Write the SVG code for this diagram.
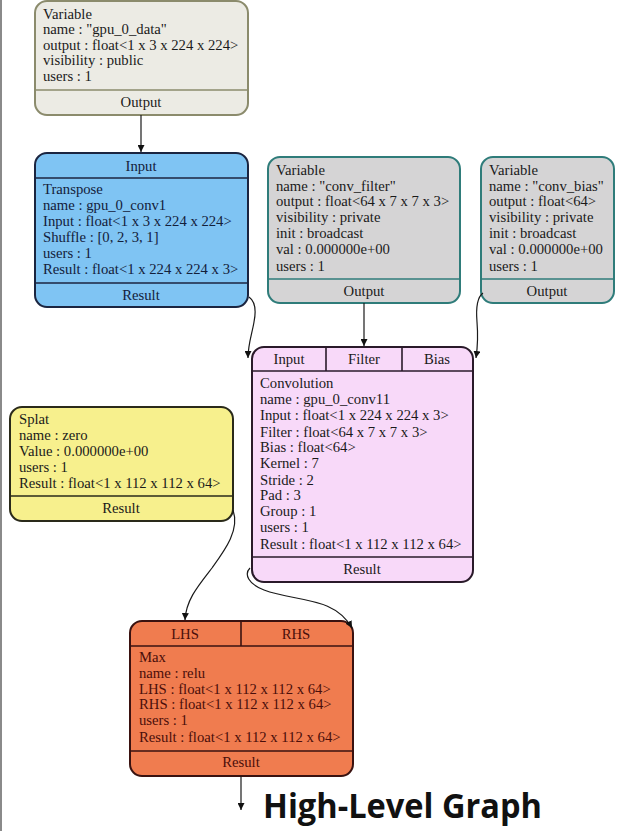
<svg xmlns="http://www.w3.org/2000/svg" width="623" height="831" viewBox="0 0 623 831">
<style>
text{font-family:"Liberation Serif","Times New Roman",serif;font-size:14.7px;fill:#1a1a1a}
.c{text-anchor:middle}
.box{stroke-width:2}
.div{stroke-width:1.6;fill:none}
.edge{fill:none;stroke:#1a1a1a;stroke-width:1.2}
.title{font-family:"Open Sans","Liberation Sans",sans-serif;font-weight:bold;font-size:34px;fill:#111}
</style>
<defs>
<marker id="ah" viewBox="0 0 10 10" refX="10" refY="5" markerWidth="7" markerHeight="7" orient="auto" markerUnits="userSpaceOnUse">
<path d="M0,0 L10,5 L0,10 z" fill="#111"/>
</marker>
</defs>
<rect x="0" y="0" width="623" height="831" fill="#ffffff"/>
<rect x="0" y="0" width="2" height="831" fill="#8a8a8a"/>

<g id="n_gpu_0_data">
<rect class="box" x="35" y="1" width="213" height="114" rx="12" fill="#ecebe4" stroke="#8b8b6c"/>
<line class="div" x1="35" y1="90" x2="248" y2="90" stroke="#8b8b6c"/>
<text x="43" y="19">Variable</text>
<text x="43" y="34">name : "gpu_0_data"</text>
<text x="43" y="50">output : float&lt;1 x 3 x 224 x 224&gt;</text>
<text x="43" y="65">visibility : public</text>
<text x="43" y="81">users : 1</text>
<text class="c" x="141" y="107">Output</text>
</g>

<g id="n_transpose">
<rect class="box" x="35" y="153" width="213" height="154" rx="12" fill="#7fc4f3" stroke="#1b2540"/>
<line class="div" x1="35" y1="178" x2="248" y2="178" stroke="#1b2540"/>
<line class="div" x1="35" y1="283" x2="248" y2="283" stroke="#1b2540"/>
<text class="c" x="141" y="171" style="fill:#13203a">Input</text>
<text x="43" y="194" style="fill:#13203a">Transpose</text>
<text x="43" y="210" style="fill:#13203a">name : gpu_0_conv1</text>
<text x="43" y="226" style="fill:#13203a">Input : float&lt;1 x 3 x 224 x 224&gt;</text>
<text x="43" y="242" style="fill:#13203a">Shuffle : [0, 2, 3, 1]</text>
<text x="43" y="258" style="fill:#13203a">users : 1</text>
<text x="43" y="274" style="fill:#13203a">Result : float&lt;1 x 224 x 224 x 3&gt;</text>
<text class="c" x="141" y="300" style="fill:#13203a">Result</text>
</g>

<g id="n_conv_filter">
<rect class="box" x="268" y="157" width="192" height="146" rx="12" fill="#d5d4d5" stroke="#2f7c7a"/>
<line class="div" x1="268" y1="279" x2="460" y2="279" stroke="#2f7c7a"/>
<text x="276" y="175">Variable</text>
<text x="276" y="191">name : "conv_filter"</text>
<text x="276" y="206">output : float&lt;64 x 7 x 7 x 3&gt;</text>
<text x="276" y="222">visibility : private</text>
<text x="276" y="238">init : broadcast</text>
<text x="276" y="254">val : 0.000000e+00</text>
<text x="276" y="271">users : 1</text>
<text class="c" x="364" y="296">Output</text>
</g>

<g id="n_conv_bias">
<rect class="box" x="481" y="157" width="133" height="146" rx="12" fill="#d5d4d5" stroke="#2f7c7a"/>
<line class="div" x1="481" y1="279" x2="614" y2="279" stroke="#2f7c7a"/>
<text x="489" y="175">Variable</text>
<text x="489" y="191">name : "conv_bias"</text>
<text x="489" y="206">output : float&lt;64&gt;</text>
<text x="489" y="222">visibility : private</text>
<text x="489" y="238">init : broadcast</text>
<text x="489" y="254">val : 0.000000e+00</text>
<text x="489" y="271">users : 1</text>
<text class="c" x="547" y="296">Output</text>
</g>

<g id="n_convolution">
<rect class="box" x="252" y="347" width="221" height="235" rx="12" fill="#f8d9f9" stroke="#2a1a2a"/>
<line class="div" x1="252" y1="371" x2="473" y2="371" stroke="#2a1a2a"/>
<line class="div" x1="326" y1="347" x2="326" y2="371" stroke="#2a1a2a"/>
<line class="div" x1="402" y1="347" x2="402" y2="371" stroke="#2a1a2a"/>
<line class="div" x1="252" y1="557" x2="473" y2="557" stroke="#2a1a2a"/>
<text class="c" x="289" y="364">Input</text>
<text class="c" x="364" y="364">Filter</text>
<text class="c" x="437" y="364">Bias</text>
<text x="260" y="388">Convolution</text>
<text x="260" y="404">name : gpu_0_conv11</text>
<text x="260" y="420">Input : float&lt;1 x 224 x 224 x 3&gt;</text>
<text x="260" y="437">Filter : float&lt;64 x 7 x 7 x 3&gt;</text>
<text x="260" y="452">Bias : float&lt;64&gt;</text>
<text x="260" y="468">Kernel : 7</text>
<text x="260" y="485">Stride : 2</text>
<text x="260" y="500">Pad : 3</text>
<text x="260" y="516">Group : 1</text>
<text x="260" y="532">users : 1</text>
<text x="260" y="549">Result : float&lt;1 x 112 x 112 x 64&gt;</text>
<text class="c" x="362" y="574">Result</text>
</g>

<g id="n_splat">
<rect class="box" x="10" y="407" width="223" height="114" rx="12" fill="#f7f08d" stroke="#2a2a1a"/>
<line class="div" x1="10" y1="496" x2="233" y2="496" stroke="#2a2a1a"/>
<text x="19" y="424">Splat</text>
<text x="19" y="440">name : zero</text>
<text x="19" y="456">Value : 0.000000e+00</text>
<text x="19" y="472">users : 1</text>
<text x="19" y="488">Result : float&lt;1 x 112 x 112 x 64&gt;</text>
<text class="c" x="121" y="513">Result</text>
</g>

<g id="n_max">
<rect class="box" x="130" y="621" width="223" height="155" rx="12" fill="#f07c4f" stroke="#3a1210"/>
<line class="div" x1="130" y1="646" x2="353" y2="646" stroke="#3a1210"/>
<line class="div" x1="241" y1="621" x2="241" y2="646" stroke="#3a1210"/>
<line class="div" x1="130" y1="751" x2="353" y2="751" stroke="#3a1210"/>
<text class="c" x="185" y="639" style="fill:#4a0e0a">LHS</text>
<text class="c" x="296" y="639" style="fill:#4a0e0a">RHS</text>
<text x="139" y="662" style="fill:#4a0e0a">Max</text>
<text x="139" y="678" style="fill:#4a0e0a">name : relu</text>
<text x="139" y="694" style="fill:#4a0e0a">LHS : float&lt;1 x 112 x 112 x 64&gt;</text>
<text x="139" y="709" style="fill:#4a0e0a">RHS : float&lt;1 x 112 x 112 x 64&gt;</text>
<text x="139" y="725" style="fill:#4a0e0a">users : 1</text>
<text x="139" y="742" style="fill:#4a0e0a">Result : float&lt;1 x 112 x 112 x 64&gt;</text>
<text class="c" x="241" y="767" style="fill:#4a0e0a">Result</text>
</g>

<g id="edges">
<path class="edge" d="M249,297 C256,302 256,312 254,322 C252,334 248,344 248,358" marker-end="url(#ah)"/>
<path class="edge" d="M141,115 L141,152" marker-end="url(#ah)"/>
<path class="edge" d="M364,303 L364,346" marker-end="url(#ah)"/>
<path class="edge" d="M483,293 C476,298 476,310 477,322 C478,334 478,344 476,358" marker-end="url(#ah)"/>
<path class="edge" d="M233,510 C240,530 225,550 212,568 C198,586 186,600 185,620" marker-end="url(#ah)"/>
<path class="edge" d="M250,568 C244,574 248,584 264,590 C296,602 334,596 352,628" marker-end="url(#ah)"/>
<path class="edge" d="M241,776 L241,810" marker-end="url(#ah)"/>
</g>

<text class="title" x="263" y="818" textLength="279" lengthAdjust="spacingAndGlyphs">High-Level Graph</text>
</svg>
